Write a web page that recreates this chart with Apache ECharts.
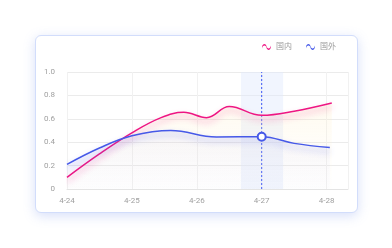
<!DOCTYPE html>
<html>
<head>
<meta charset="utf-8">
<script src="https://cdn.jsdelivr.net/npm/echarts@6/dist/echarts.min.js"></script>
<style>
html,body{margin:0;padding:0;background:#fff;width:392px;height:248px;overflow:hidden;}
#card{position:absolute;left:35px;top:35px;width:321px;height:176px;border:1px solid #d2ddfb;border-radius:6px;background:#fff;box-shadow:0 3px 12px rgba(110,140,235,0.28);}
#chart{position:absolute;left:0;top:0;width:392px;height:248px;}
</style>
</head>
<body>
<div id="card"></div>
<div id="chart"></div>
<script>
// Tick labels of the x axis (one per day)
var xLabels = ['4-24', '4-25', '4-26', '4-27', '4-28'];
// Sample positions (in days from 4-24) and values
var domesticX = [0, 0.5, 1, 1.45, 1.8, 2.15, 2.5, 3, 3.5, 4.08];
var domesticY = [0.10, 0.30, 0.48, 0.61, 0.655, 0.61, 0.705, 0.63, 0.665, 0.735];
var foreignX = [0, 0.5, 1, 1.6, 2.3, 3, 3.5, 4.05];
var foreignY = [0.21, 0.35, 0.455, 0.50, 0.445, 0.447, 0.39, 0.355];
var seriesNames = ['国内', '国外'];
var highlightIndex = 5; // 4-27 in the foreign series
var bandRange = [2.68, 3.33];
var yRange = [0, 1];

var pink = '#ee1683', blue = '#4659e8', pointerBlue = '#3d55f5';
var wave = 'path://M0,5 C1,0 5,0 6,4 C7,8 11,8 12,3 L12,5 C11,10 7,10 6,6 C5,2 1,2 0,7 Z';

function pairs(xs, ys){ return xs.map(function(x,i){ return [x, ys[i]]; }); }
var foreignData = pairs(foreignX, foreignY).map(function(p, i){
  if (i === highlightIndex) {
    return {value: p, symbol: 'circle', symbolSize: 8,
      itemStyle: {color: '#fff', borderColor: blue, borderWidth: 2, shadowBlur: 0}};
  }
  return {value: p};
});
var hx = foreignX[highlightIndex];

var font = 'Roboto, "Noto Sans CJK SC", sans-serif';
var chart = echarts.init(document.getElementById('chart'), null, {renderer: 'canvas'});
chart.setOption({
  animation: false,
  textStyle: {fontFamily: font},
  legend: {
    left: 257, top: 38, itemWidth: 9, itemHeight: 6, itemGap: 14,
    textStyle: {color: '#9a9a9a', fontSize: 8, fontFamily: font},
    data: [
      {name: seriesNames[0], icon: wave, itemStyle: {color: pink}},
      {name: seriesNames[1], icon: wave, itemStyle: {color: blue}}
    ]
  },
  grid: {left: 67, right: 44, top: 72, bottom: 59},
  xAxis: {
    type: 'value', min: 0, max: 4.33, interval: 1,
    axisLine: {show: true, lineStyle: {color: '#e4e4e4'}},
    axisTick: {show: false},
    splitLine: {show: true, lineStyle: {color: '#f1f1f1'}},
    axisLabel: {color: '#a0a0a0', fontSize: 8, margin: 8, showMaxLabel: false,
      formatter: function(v){ return xLabels[Math.round(v)] || ''; }}
  },
  yAxis: {
    type: 'value', min: yRange[0], max: yRange[1], interval: 0.2,
    axisLine: {show: false}, axisTick: {show: false},
    splitLine: {lineStyle: {color: '#ebebeb'}},
    axisLabel: {color: '#a0a0a0', fontSize: 8, margin: 12,
      formatter: function(v){ return v === 0 ? '0' : v.toFixed(1); }}
  },
  series: [
    {
      name: 'pointer', type: 'line', symbol: 'none', silent: true, z: 2,
      data: [[hx, yRange[0]], [hx, yRange[1]]],
      lineStyle: {color: pointerBlue, type: [2, 2], width: 1},
      markArea: {silent: true, itemStyle: {color: 'rgba(225,232,252,0.45)'},
        data: [[{xAxis: bandRange[0]}, {xAxis: bandRange[1]}]]}
    },
    {
      name: seriesNames[0], type: 'line', smooth: 0.4, symbol: 'none', z: 3,
      data: pairs(domesticX, domesticY),
      lineStyle: {color: pink, width: 1.5, shadowColor: 'rgba(238,22,131,0.45)', shadowBlur: 6, shadowOffsetY: 4},
      itemStyle: {color: pink},
      areaStyle: {color: new echarts.graphic.LinearGradient(0,0,0,1,[
        {offset: 0, color: 'rgba(255,236,190,0.35)'},
        {offset: 1, color: 'rgba(255,245,225,0.05)'}])}
    },
    {
      name: seriesNames[1], type: 'line', smooth: 0.4, symbol: 'none', showSymbol: true, z: 4,
      data: foreignData,
      lineStyle: {color: blue, width: 1.5, shadowColor: 'rgba(70,89,232,0.45)', shadowBlur: 6, shadowOffsetY: 4},
      itemStyle: {color: blue},
      areaStyle: {color: new echarts.graphic.LinearGradient(0,0,0,1,[
        {offset: 0, color: 'rgba(120,120,230,0.08)'},
        {offset: 1, color: 'rgba(120,120,230,0.02)'}])}
    }
  ]
});
</script>
</body>
</html>
